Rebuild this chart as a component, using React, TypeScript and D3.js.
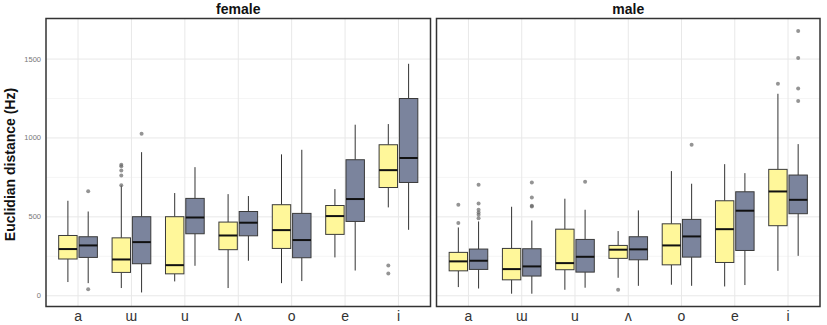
import React from "react";
import * as d3 from "d3";

const categories = ["a", "ɯ", "u", "ʌ", "o", "e", "i"];
const panels = ["female", "male"];
const yTicks = [0, 500, 1000, 1500];
const yMinor = [250, 750, 1250];

// [lower whisker, q1, median, q3, upper whisker]
const femaleYellow = [
  [87, 233, 296, 382, 602],
  [49, 148, 230, 367, 699],
  [91, 139, 194, 501, 651],
  [49, 292, 382, 467, 644],
  [80, 300, 416, 577, 896],
  [243, 389, 505, 572, 676],
  [560, 686, 796, 957, 1088],
];
const femaleGrey = [
  [80, 243, 319, 374, 534],
  [21, 203, 340, 501, 910],
  [190, 393, 496, 617, 815],
  [222, 380, 463, 534, 632],
  [93, 241, 353, 522, 925],
  [160, 471, 613, 862, 1084],
  [418, 718, 873, 1250, 1470],
];
const maleYellow = [
  [55, 158, 218, 275, 433],
  [13, 101, 169, 300, 564],
  [38, 165, 207, 422, 615],
  [114, 237, 292, 319, 410],
  [70, 196, 319, 456, 790],
  [59, 211, 422, 602, 834],
  [158, 444, 661, 801, 1280],
];
const maleGrey = [
  [46, 167, 222, 296, 471],
  [13, 125, 186, 298, 477],
  [51, 150, 247, 357, 545],
  [63, 228, 294, 374, 541],
  [63, 245, 376, 484, 710],
  [68, 287, 539, 659, 777],
  [253, 520, 608, 765, 961],
];
const femaleYellowOut = [[], [700, 762, 794, 820, 830], [], [], [], [], [192, 141]];
const femaleGreyOut = [[663, 42], [1027], [], [], [], [], []];
const maleYellowOut = [[461, 577], [], [], [38], [], [], [1343]];
const maleGreyOut = [
  [492, 513, 528, 545, 585, 703],
  [566, 570, 623, 718],
  [722],
  [],
  [957],
  [],
  [1234, 1314, 1506, 1677],
];

const seriesColors = ["#fff79a", "#7b849d"];

const W = 827;
const H = 325;
const panelTop = 18.5;
const panelBottom = 306.5;
const panelX = [
  [46, 430.5],
  [436.5, 820],
];

const y = d3.scaleLinear().domain([-68, 1757]).range([panelBottom, panelTop]);

const panelData = [
  { stats: [femaleYellow, femaleGrey], outs: [femaleYellowOut, femaleGreyOut] },
  { stats: [maleYellow, maleGrey], outs: [maleYellowOut, maleGreyOut] },
];

export default function App() {
  const font = "'Liberation Sans', Arial, sans-serif";
  return (
    <svg
      width={W}
      height={H}
      style={{ position: "absolute", left: 0, top: 0, background: "#fff" }}
      fontFamily={font}
    >
      <text
        transform={`translate(15,${(panelTop + panelBottom) / 2 + 2}) rotate(-90)`}
        textAnchor="middle"
        fontSize={14}
        fontWeight="bold"
        fill="#111"
      >
        Euclidian distance (Hz)
      </text>
      {yTicks.map((t) => (
        <text key={t} x={41} y={y(t) + 2.5} textAnchor="end" fontSize={7.5} fill="#777">
          {t}
        </text>
      ))}
      {panels.map((p, pi) => {
        const [x0, x1] = panelX[pi];
        const x = d3
          .scaleLinear()
          .domain([-0.6, categories.length - 0.4])
          .range([x0, x1]);
        const pd = panelData[pi];
        return (
          <g key={p}>
            <text
              x={(x0 + x1) / 2}
              y={13.5}
              textAnchor="middle"
              fontSize={14}
              fontWeight="bold"
              fill="#111"
            >
              {p}
            </text>
            {yMinor.map((t) => (
              <line key={"m" + t} x1={x0} x2={x1} y1={y(t)} y2={y(t)} stroke="#f2f2f2" strokeWidth={0.8} />
            ))}
            {yTicks.map((t) => (
              <line key={"g" + t} x1={x0} x2={x1} y1={y(t)} y2={y(t)} stroke="#e8e8e8" strokeWidth={1} />
            ))}
            {categories.map((c, i) => (
              <line key={"v" + c} x1={x(i)} x2={x(i)} y1={panelTop} y2={panelBottom} stroke="#e8e8e8" strokeWidth={1} />
            ))}
            {categories.map((c, i) => (
              <text key={"t" + c} x={x(i)} y={321} textAnchor="middle" fontSize={14} fill="#333">
                {c}
              </text>
            ))}
            {categories.map((c, i) =>
              [0, 1].map((s) => {
                const st = pd.stats[s][i];
                const cx = x(i + (s === 0 ? -0.19 : 0.19));
                const hw = (x(0.345) - x(0)) / 2;
                return (
                  <g key={c + s}>
                    <line x1={cx} x2={cx} y1={y(st[3])} y2={y(st[4])} stroke="#333" strokeWidth={1} />
                    <line x1={cx} x2={cx} y1={y(st[1])} y2={y(st[0])} stroke="#333" strokeWidth={1} />
                    <rect
                      x={cx - hw}
                      y={y(st[3])}
                      width={hw * 2}
                      height={y(st[1]) - y(st[3])}
                      fill={seriesColors[s]}
                      stroke="#3a3a3a"
                      strokeWidth={1}
                    />
                    <line x1={cx - hw} x2={cx + hw} y1={y(st[2])} y2={y(st[2])} stroke="#111" strokeWidth={2} />
                    {pd.outs[s][i].map((v, k) => (
                      <circle key={k} cx={cx} cy={y(v)} r={2} fill="#666" fillOpacity={0.7} />
                    ))}
                  </g>
                );
              })
            )}
            <rect
              x={x0}
              y={panelTop}
              width={x1 - x0}
              height={panelBottom - panelTop}
              fill="none"
              stroke="#333"
              strokeWidth={1.5}
            />
          </g>
        );
      })}
    </svg>
  );
}
